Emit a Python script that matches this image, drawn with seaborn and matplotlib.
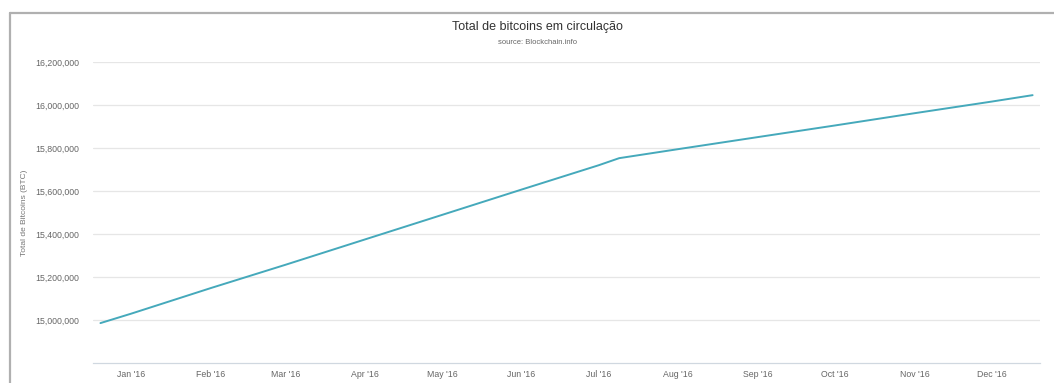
import pandas as pd
import matplotlib
matplotlib.use('Agg')
import matplotlib.pyplot as plt
import matplotlib.dates as mdates
import matplotlib.ticker as mticker
from matplotlib.lines import Line2D
import seaborn as sns

# Bitcoins in circulation
dates = ['2015-12-20', '2016-01-01', '2016-02-01', '2016-03-01', '2016-04-01',
         '2016-05-01', '2016-06-01', '2016-07-01', '2016-07-09', '2016-08-01',
         '2016-09-01', '2016-10-01', '2016-11-01', '2016-12-01', '2016-12-17']
btc_total = [14986000, 15030000, 15149000, 15257000, 15375000,
             15489000, 15607000, 15720000, 15753000, 15795000,
             15851000, 15905000, 15962000, 16016000, 16046000]
y_ticks = [15000000, 15200000, 15400000, 15600000, 15800000, 16000000, 16200000]

df = pd.DataFrame({'Data': pd.to_datetime(dates), 'Total': btc_total})

sns.set_style('white')
plt.rcParams['font.family'] = ['Liberation Sans', 'DejaVu Sans']

fig = plt.figure(figsize=(10.54, 3.83), dpi=100)
ax = fig.add_axes([0.088, 0.052, 0.899, 0.786])

sns.lineplot(data=df, x='Data', y='Total', ax=ax, color='#45a9bb', linewidth=1.4)

ax.set_xlim(pd.Timestamp('2015-12-17'), pd.Timestamp('2016-12-20'))
ax.set_ylim(14800000, 16200000)
ax.set_yticks(y_ticks)
ax.yaxis.set_major_formatter(mticker.FuncFormatter(lambda v, p: f'{int(v):,}'))
ax.xaxis.set_major_locator(mdates.MonthLocator())
ax.xaxis.set_major_formatter(mdates.DateFormatter("%b '%y"))

ax.grid(axis='y', color='#e6e6e6', linewidth=0.9)
ax.grid(axis='x', visible=False)
for s in ['top', 'right', 'left']:
    ax.spines[s].set_visible(False)
ax.spines['bottom'].set_color('#d0d8e0')
ax.spines['bottom'].set_linewidth(0.9)
ax.tick_params(axis='y', length=0, labelsize=6.3, labelcolor='#666666', pad=10)
ax.tick_params(axis='x', length=2, color='#d0d8e0', labelsize=6.3, labelcolor='#666666', pad=3)

ax.set_xlabel('')
ax.set_ylabel('Total de Bitcoins (BTC)', fontsize=6, color='#777777')
ax.yaxis.set_label_coords(-0.068, 0.5)

fig.text(0.51, 0.93, 'Total de bitcoins em circulação', ha='center', va='center',
         fontsize=9, color='#333333')
fig.text(0.51, 0.888, 'source: Blockchain.info', ha='center', va='center',
         fontsize=5.5, color='#666666')

# outer frame (top and left edges visible in the screenshot)
fig.add_artist(Line2D([0.0099, 1.0], [0.967, 0.967], color='#b0b0b0', linewidth=1.6,
                      transform=fig.transFigure))
fig.add_artist(Line2D([0.0099, 0.0099], [0.0, 0.967], color='#b0b0b0', linewidth=1.6,
                      transform=fig.transFigure))

fig.savefig('out.png', dpi=100)
